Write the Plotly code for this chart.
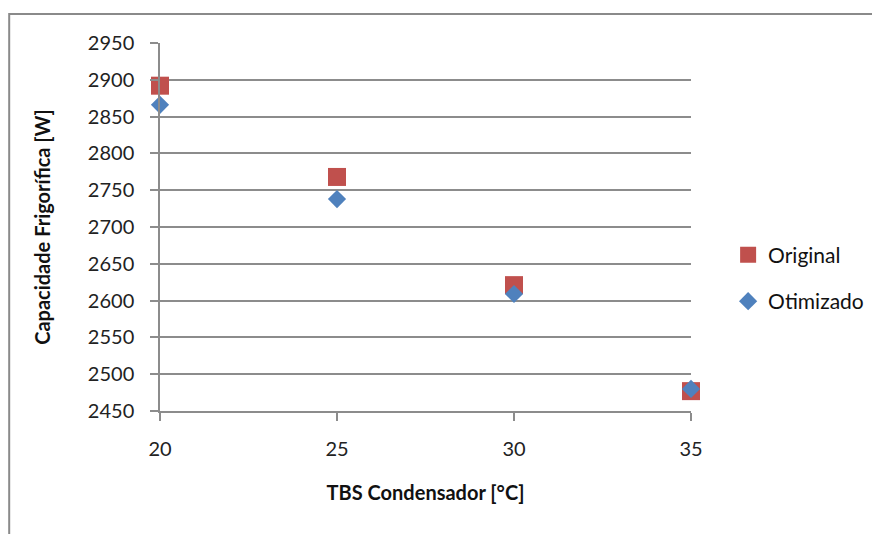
import plotly.graph_objects as go

tbs = [20, 25, 30, 35]
original = [2892, 2768, 2621, 2477]
otimizado = [2866, 2738, 2609, 2480]
y_ticks = [2450, 2500, 2550, 2600, 2650, 2700, 2750, 2800, 2850, 2900, 2950]
x_ticks = [20, 25, 30, 35]

FONT = "Lato, Open Sans, sans-serif"
GRID = "#8c8c8c"

fig = go.Figure()
fig.add_trace(go.Scatter(
    x=tbs, y=original, mode="markers", name="Original", legendgroup="a",
    marker=dict(symbol="square", size=18, color="#C0504D"), cliponaxis=False,
))
fig.add_trace(go.Scatter(
    x=tbs, y=otimizado, mode="markers", name="Otimizado", legendgroup="b",
    marker=dict(symbol="diamond", size=14, color="#4F81BD"), cliponaxis=False,
))

fig.update_layout(
    width=872, height=534,
    margin=dict(l=160, r=181, t=43, b=123),
    paper_bgcolor="white", plot_bgcolor="white",
    font=dict(family=FONT, size=20, color="#222222"),
    showlegend=True,
    legend=dict(xref="container", yref="container", x=0.835, y=0.479,
                xanchor="left", yanchor="middle",
                font=dict(size=21, color="#111111"), tracegroupgap=16,
                traceorder="grouped", itemwidth=30),
    xaxis=dict(
        range=[20, 35], tickvals=x_ticks, showgrid=False,
        showline=True, linecolor=GRID, linewidth=1.5,
        ticks="outside", ticklen=8, tickcolor=GRID, tickwidth=1.5,
        ticklabelstandoff=11, zeroline=False,
        title=dict(text="<b>TBS Condensador [°C]</b>", font=dict(size=20, color="#111111"), standoff=27),
    ),
    yaxis=dict(
        range=[2450, 2950], tickvals=y_ticks, showgrid=True, gridcolor=GRID, gridwidth=1.5,
        showline=True, linecolor=GRID, linewidth=1.5,
        ticks="outside", ticklen=8, tickcolor=GRID, tickwidth=1.5,
        ticklabelstandoff=12, zeroline=False,
        title=dict(text="<b>Capacidade Frigorífica [W]</b>", font=dict(size=20, color="#111111"), standoff=32),
    ),
    shapes=[dict(type="rect", xref="paper", yref="paper",
                 x0=-0.284, y0=-0.6, x1=1.6, y1=1.079,
                 line=dict(color="#8a8a8a", width=2), layer="below")],
)

fig.write_html("out.html")
